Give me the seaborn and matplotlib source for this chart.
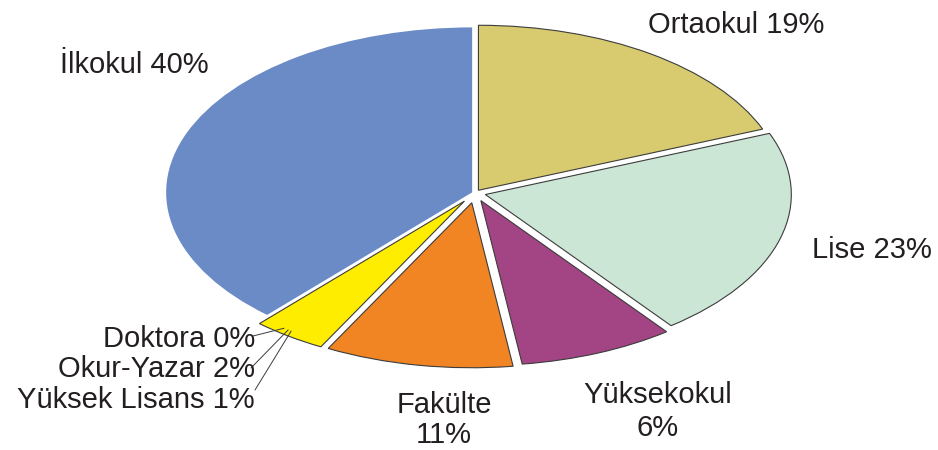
import matplotlib
matplotlib.use("Agg")
import matplotlib.pyplot as plt
import seaborn as sns
import numpy as np

# categories in clockwise order starting at 12 o'clock
categories = ["Ortaokul", "Lise", "Yüksekokul", "Fakülte",
              "Yüksek Lisans", "Doktora", "Okur-Yazar", "İlkokul"]
# percentages printed on the chart
percent_labels = [19, 23, 6, 11, 1, 0, 2, 40]
# wedge sizes as drawn (printed percentages add up to 102)
shares = [18.9, 20.6, 8.2, 9.9, 1.3, 0.0, 2.6, 38.2]
# the three smallest groups share one yellow wedge
small_groups = ["Yüksek Lisans", "Doktora", "Okur-Yazar"]

colors = {
    "Ortaokul": "#D8CB6F",
    "Lise": "#CCE6D5",
    "Yüksekokul": "#A34484",
    "Fakülte": "#F18423",
    "küçük": "#FFED00",
    "İlkokul": "#6A8BC6",
}
explode = {
    "Ortaokul": 0.02,
    "Lise": 0.035,
    "Yüksekokul": 0.05,
    "Fakülte": 0.06,
    "küçük": 0.06,
    "İlkokul": 0.01,
}

share = dict(zip(categories, shares))
pie_keys, pie_vals = [], []
for c in categories:
    key = "küçük" if c in small_groups else c
    if key not in pie_keys:
        pie_keys.append(key)
        pie_vals.append(0.0)
    pie_vals[pie_keys.index(key)] += share[c]

sns.set_theme(style="white")
plt.rcParams["font.family"] = ["Liberation Sans", "DejaVu Sans"]

W, H = 938, 450
fig = plt.figure(figsize=(W / 100, H / 100), dpi=100)

# pie is squashed into an ellipse: centre (475, 193) px, half axes 306 x 165 px
cx, cy, a, b, L = 475, 193, 306, 165, 1.15
ax = fig.add_axes([(cx - L * a) / W, (H - cy - L * b) / H, 2 * L * a / W, 2 * L * b / H])

wedges, _ = ax.pie(
    pie_vals,
    colors=[colors[k] for k in pie_keys],
    explode=[explode[k] for k in pie_keys],
    startangle=90,
    counterclock=False,
    wedgeprops=dict(edgecolor="#3c3c3c", linewidth=0.8),
)
wedges[pie_keys.index("İlkokul")].set_edgecolor("none")
ax.set_aspect("auto")
ax.set_xlim(-L, L)
ax.set_ylim(-L, L)
ax.axis("off")

text_color = "#231f20"
fs = 21
# label anchors in pixels: x, baseline y, alignment
label_pos = {
    "İlkokul": (60, 73, "left"),
    "Ortaokul": (648, 33, "left"),
    "Lise": (812, 258, "left"),
    "Yüksekokul": (658, 403, "center"),
    "Fakülte": (444, 413, "center"),
    "Doktora": (255, 347, "right"),
    "Okur-Yazar": (255, 377, "right"),
    "Yüksek Lisans": (255, 408, "right"),
}
two_line = {"Yüksekokul": 33, "Fakülte": 30}

for name, pct in zip(categories, percent_labels):
    x, y, ha = label_pos[name]
    if name in two_line:
        lines = [name, f"{pct}%"]
    else:
        lines = [f"{name} {pct}%"]
    for i, line in enumerate(lines):
        yy = y + i * two_line.get(name, 0)
        fig.text(x / W, 1 - yy / H, line, ha=ha, va="baseline",
                 fontsize=fs, color=text_color)

# leader lines from the small labels into the yellow wedge
yw = wedges[pie_keys.index("küçük")]
leader_start = {"Doktora": (253, 336), "Okur-Yazar": (251, 368), "Yüksek Lisans": (255, 390)}
leader_frac = {"Doktora": 0.33, "Okur-Yazar": 0.40, "Yüksek Lisans": 0.45}
for name in small_groups:
    th = np.deg2rad(yw.theta1 + leader_frac[name] * (yw.theta2 - yw.theta1))
    tx = yw.center[0] + 0.97 * yw.r * np.cos(th)
    ty = yw.center[1] + 0.97 * yw.r * np.sin(th)
    sx, sy = leader_start[name]
    ax.annotate("", xy=(tx, ty), xytext=(sx / W, 1 - sy / H), textcoords="figure fraction",
                arrowprops=dict(arrowstyle="-", color="#3c3c3c", lw=0.7,
                                shrinkA=0, shrinkB=0), annotation_clip=False)

fig.savefig("out.png", dpi=100, facecolor="white")
